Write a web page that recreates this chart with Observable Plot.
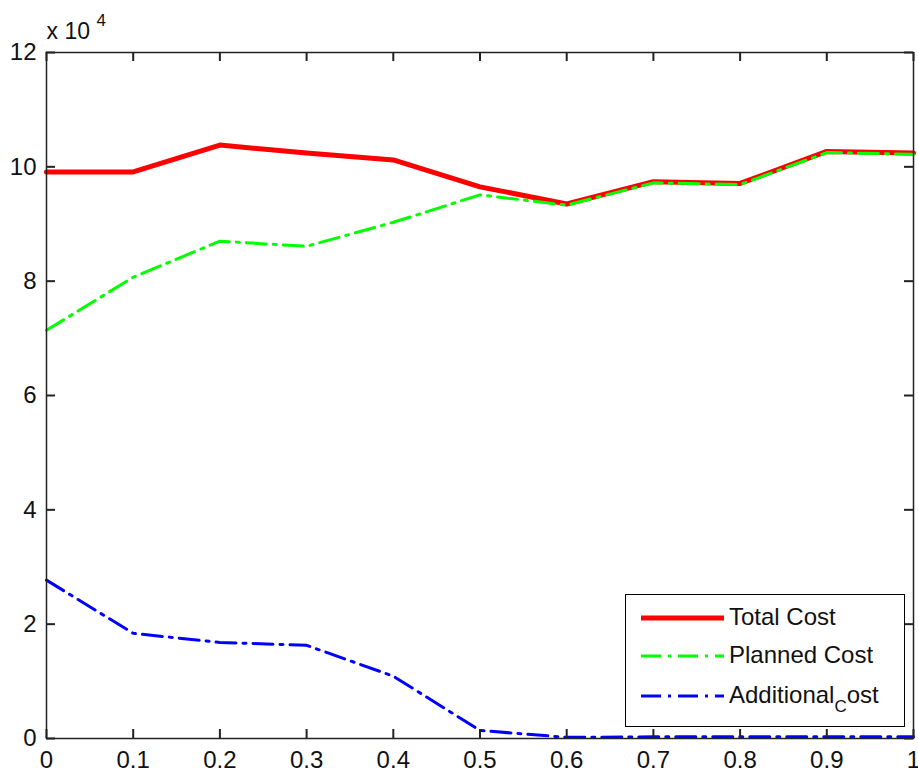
<!DOCTYPE html>
<html>
<head>
<meta charset="utf-8">
<script src="https://cdn.jsdelivr.net/npm/d3@7"></script>
<script src="https://cdn.jsdelivr.net/npm/@observablehq/plot@0.6"></script>
<style>
  html, body { margin: 0; padding: 0; background: #fff; }
  #wrap { position: relative; width: 918px; height: 775px; font-family: "Liberation Sans", Arial, sans-serif; }
  #legend { position: absolute; left: 625px; top: 594px; width: 280px; height: 133px; border: 1px solid #000; background: #fff; box-sizing: border-box; }
  .row { position: absolute; left: 0; height: 40px; width: 100%; }
  .row svg { position: absolute; left: 14px; top: 0; }
  .row span { position: absolute; left: 103px; top: 5px; font-size: 24px; color: #111; white-space: nowrap; }
  .row sub { font-size: 17px; vertical-align: -9px; line-height: 0; }
</style>
</head>
<body>
<div id="wrap"></div>
<script>
const xValues = [0, 0.1, 0.2, 0.3, 0.4, 0.5, 0.6, 0.7, 0.8, 0.9, 1.0];
const totalCost = [99100, 99100, 103800, 102400, 101200, 96500, 93500, 97400, 97100, 102700, 102400];
const plannedCost = [71400, 80700, 87000, 86100, 90300, 95100, 93300, 97200, 96900, 102500, 102200];
const additionalCost = [27700, 18400, 16800, 16300, 10900, 1400, 200, 300, 300, 300, 300];
const xTicks = [0, 0.1, 0.2, 0.3, 0.4, 0.5, 0.6, 0.7, 0.8, 0.9, 1];
const xTickLabels = ["0", "0.1", "0.2", "0.3", "0.4", "0.5", "0.6", "0.7", "0.8", "0.9", "1"];
const yTicks = [0, 20000, 40000, 60000, 80000, 100000, 120000];
const yTickLabels = ["0", "2", "4", "6", "8", "10", "12"];
const seriesNames = ["Total Cost", "Planned Cost", "Additional Cost"];

const W = 918, H = 775, mL = 46, mR = 5, mT = 52, mB = 37;
const plotW = W - mL - mR, plotH = H - mT - mB;
const rows = (vals) => xValues.map((x, i) => ({x, y: vals[i]}));
const dashDot = "20,7,3,7";
const T = 9;
const ts = {stroke: "#222", strokeWidth: 2};

const chart = Plot.plot({
  width: W,
  height: H,
  marginLeft: mL,
  marginRight: mR,
  marginTop: mT,
  marginBottom: mB,
  style: {fontFamily: "Liberation Sans, Arial, sans-serif", background: "#fff", color: "#111"},
  x: {domain: [0, 1], label: null},
  y: {domain: [0, 120000], label: null},
  marks: [
    Plot.line(rows(totalCost), {x: "x", y: "y", stroke: "#ff0000", strokeWidth: 5, strokeLinejoin: "round"}),
    Plot.line(rows(plannedCost), {x: "x", y: "y", stroke: "#00ff00", strokeWidth: 3, strokeDasharray: dashDot}),
    Plot.line(rows(additionalCost), {x: "x", y: "y", stroke: "#0000ff", strokeWidth: 3, strokeDasharray: dashDot}),
    Plot.frame({stroke: "#222", strokeWidth: 1.5}),
    Plot.ruleX(xTicks, {x: (d) => d, insetTop: plotH - T, ...ts}),
    Plot.ruleX(xTicks, {x: (d) => d, insetBottom: plotH - T, ...ts}),
    Plot.ruleY(yTicks, {y: (d) => d, insetRight: plotW - T, ...ts}),
    Plot.ruleY(yTicks, {y: (d) => d, insetLeft: plotW - T, ...ts}),
    Plot.axisX(xTicks, {anchor: "bottom", tickSize: 0, tickPadding: 12, fontSize: 24, fill: "#111",
      tickFormat: (d) => xTickLabels[xTicks.indexOf(d)], label: null}),
    Plot.axisY(yTicks, {anchor: "left", tickSize: 0, tickPadding: 10, fontSize: 24, fill: "#111",
      tickFormat: (d) => yTickLabels[yTicks.indexOf(d)], label: null}),
    Plot.text(["x 10"], {frameAnchor: "top-left", dx: 0, dy: -14, textAnchor: "start", lineAnchor: "bottom", fontSize: 23, fill: "#111"}),
    Plot.text(["4"], {frameAnchor: "top-left", dx: 50, dy: -27, textAnchor: "start", lineAnchor: "bottom", fontSize: 17, fill: "#111"})
  ]
});
const wrap = document.getElementById("wrap");
wrap.appendChild(chart);

const legend = document.createElement("div");
legend.id = "legend";
const styles = [
  {color: "#ff0000", width: 5, dash: null},
  {color: "#00ff00", width: 3, dash: dashDot},
  {color: "#0000ff", width: 3, dash: dashDot}
];
const tops = [3, 41, 81];
seriesNames.forEach((name, i) => {
  const row = document.createElement("div");
  row.className = "row";
  row.style.top = tops[i] + "px";
  const s = styles[i];
  row.innerHTML = `<svg width="86" height="40"><line x1="1" x2="84" y1="20" y2="20" stroke="${s.color}" stroke-width="${s.width}" ${s.dash ? `stroke-dasharray="${s.dash}"` : ""}/></svg>` +
    (i === 2 ? `<span>Additional<sub>C</sub>ost</span>` : `<span>${name}</span>`);
  legend.appendChild(row);
});
wrap.appendChild(legend);
</script>
</body>
</html>
